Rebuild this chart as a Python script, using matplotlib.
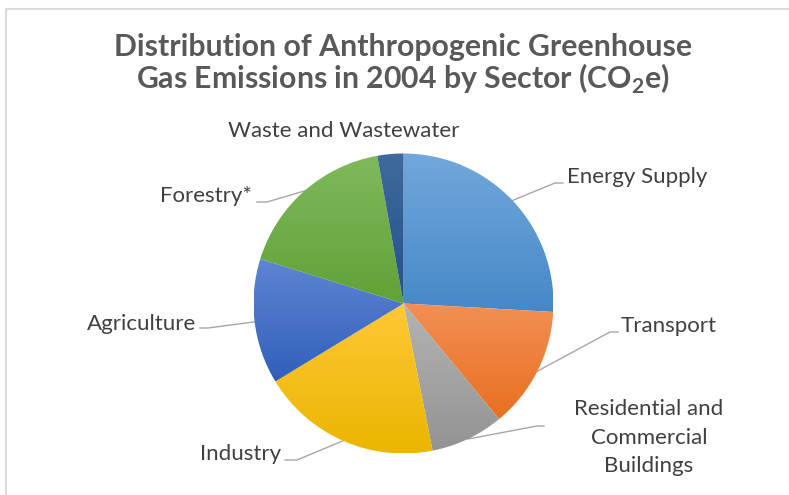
import numpy as np
import matplotlib
matplotlib.use("Agg")
import matplotlib.pyplot as plt
from matplotlib.colors import to_rgb

plt.rcParams["font.family"] = ["Lato", "DejaVu Sans"]
plt.rcParams["mathtext.fontset"] = "custom"
plt.rcParams["mathtext.rm"] = "Lato:bold"

# IPCC 2004 share of CO2e emissions by sector (%)
sectors = ["Energy Supply", "Transport", "Residential and\nCommercial\nBuildings",
           "Industry", "Agriculture", "Forestry*", "Waste and Wastewater"]
shares = [25.9, 13.1, 7.9, 19.4, 13.5, 17.4, 2.8]

# light top / dark bottom of each slice's gradient
tops = ["#72a8dc", "#f28f55", "#b4b4b4", "#ffc837", "#5f85d3", "#80b95c", "#3f6a9c"]
bottoms = ["#4588c7", "#e8701f", "#939393", "#ebb500", "#305fba", "#61a237", "#21528c"]

W, H = 789, 495
fig = plt.figure(figsize=(W / 100, H / 100), dpi=100)
ax = fig.add_axes([0, 0, 1, 1])


def py(y):
    # pixel rows are counted from the top
    return H - y


cx, cy, r = 403.5, py(303.5), 150
wedges, _ = ax.pie(shares, center=(cx, cy), radius=r, startangle=90,
                   counterclock=False, wedgeprops=dict(linewidth=0))

for w, c0, c1 in zip(wedges, tops, bottoms):
    w.set_facecolor("none")
    bb = w.get_path().get_extents(w.get_patch_transform())
    t = np.linspace(0, 1, 256)[:, None, None]
    grad = (1 - t) * np.array(to_rgb(c1)) + t * np.array(to_rgb(c0))
    im = ax.imshow(grad, extent=(bb.x0, bb.x1, bb.y0, bb.y1), origin="lower",
                   aspect="auto", interpolation="bilinear", zorder=1)
    im.set_clip_path(w)

# label anchors: text position, alignment, elbow and end of the leader line
labels = {
    "Energy Supply": ((567, 183), "left", [(555, 183), (563, 183)]),
    "Transport": ((621, 332), "left", [(610, 332), (618, 332)]),
    "Residential and\nCommercial\nBuildings": ((649, 472), "center", [(537, 426), (544, 426)]),
    "Industry": ((281, 460), "right", [(297, 460), (285, 460)]),
    "Agriculture": ((196, 330), "right", [(208, 328), (200, 328)]),
    "Forestry*": ((252, 202), "right", [(267, 202), (257, 202)]),
    "Waste and Wastewater": ((344, 137), "center", None),
}

angle = 90.0
for name, share in zip(sectors, shares):
    mid = np.deg2rad(angle - share * 3.6 / 2)
    angle -= share * 3.6
    (tx, ty), ha, leader = labels[name]
    ax.text(tx, py(ty), name, ha=ha, va="baseline", fontsize=16,
            color="#404040", linespacing=1.52, multialignment="center")
    if leader:
        xs = [cx + r * np.cos(mid)] + [p[0] for p in leader]
        ys = [cy + r * np.sin(mid)] + [py(p[1]) for p in leader]
        ax.plot(xs, ys, color="#a6a6a6", lw=1.0, zorder=0.5)

ax.text(403.5, py(56), "Distribution of Anthropogenic Greenhouse",
        ha="center", va="baseline", fontsize=21.8, fontweight="bold", color="#595959")
ax.text(403.5, py(89), r"Gas Emissions in 2004 by Sector (CO$_2$e)",
        ha="center", va="baseline", fontsize=21.8, fontweight="bold", color="#595959")

# chart frame
ax.plot([6.5, 6.5, W + 5], [-5, py(8.5), py(8.5)], color="#d9d9d9", lw=1.5,
        solid_joinstyle="miter")

ax.set_xlim(0, W)
ax.set_ylim(0, H)
ax.set_aspect("auto")
ax.axis("off")
fig.savefig("out.png", dpi=100)
